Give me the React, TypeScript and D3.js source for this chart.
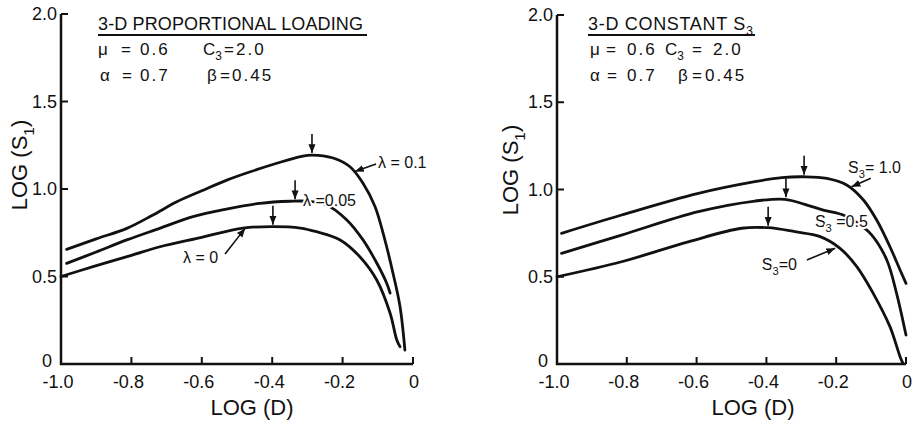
import React from "react";
import * as d3 from "d3";

type Pt = [number, number];

const xTicks = [-1.0, -0.8, -0.6, -0.4, -0.2, 0];
const xTickLabels = ["-1.0", "-0.8", "-0.6", "-0.4", "-0.2", "0"];
const yTicks = [0, 0.5, 1.0, 1.5, 2.0];
const yTickLabels = ["0", "0.5", "1.0", "1.5", "2.0"];

// 3-D proportional loading (log D, log S1)
const lambda01: Pt[] = [
  [-0.984, 0.655], [-0.9, 0.715], [-0.813, 0.775], [-0.74, 0.85], [-0.671, 0.927],
  [-0.6, 0.99], [-0.529, 1.051], [-0.46, 1.1], [-0.387, 1.147], [-0.32, 1.185],
  [-0.287, 1.194], [-0.227, 1.177], [-0.179, 1.127], [-0.142, 1.033], [-0.108, 0.9],
  [-0.08, 0.71], [-0.057, 0.52], [-0.037, 0.33], [-0.023, 0.08],
];
const lambda005: Pt[] = [
  [-0.984, 0.575], [-0.9, 0.64], [-0.813, 0.709], [-0.72, 0.775], [-0.625, 0.842],
  [-0.53, 0.885], [-0.435, 0.918], [-0.349, 0.93], [-0.3, 0.93], [-0.245, 0.909],
  [-0.188, 0.823], [-0.142, 0.709], [-0.103, 0.577], [-0.075, 0.463], [-0.065, 0.405],
];
const lambda0: Pt[] = [
  [-1.0, 0.5], [-0.909, 0.556], [-0.8, 0.621], [-0.719, 0.67], [-0.6, 0.724],
  [-0.483, 0.777], [-0.398, 0.785], [-0.32, 0.777], [-0.274, 0.756], [-0.207, 0.709],
  [-0.151, 0.613], [-0.103, 0.48], [-0.065, 0.29], [-0.046, 0.137], [-0.037, 0.099],
];
const lambdaPeaks: Pt[] = [[-0.287, 1.194], [-0.335, 0.93], [-0.398, 0.785]];

// 3-D constant S3
const s3one: Pt[] = [
  [-0.987, 0.749], [-0.815, 0.854], [-0.595, 0.978], [-0.433, 1.045], [-0.356, 1.068],
  [-0.292, 1.073], [-0.227, 1.064], [-0.17, 1.026], [-0.122, 0.94], [-0.084, 0.825],
  [-0.046, 0.672], [-0.017, 0.539], [0, 0.462],
];
const s3half: Pt[] = [
  [-0.987, 0.634], [-0.815, 0.739], [-0.595, 0.873], [-0.433, 0.934], [-0.347, 0.944],
  [-0.29, 0.915], [-0.237, 0.882], [-0.18, 0.854], [-0.14, 0.81], [-0.098, 0.739],
  [-0.055, 0.596], [-0.027, 0.405], [0, 0.166],
];
const s3zero: Pt[] = [
  [-1.0, 0.5], [-0.815, 0.586], [-0.624, 0.7], [-0.471, 0.778], [-0.395, 0.781],
  [-0.318, 0.758], [-0.246, 0.73], [-0.189, 0.663], [-0.141, 0.558], [-0.094, 0.405],
  [-0.046, 0.214], [-0.017, 0.042], [-0.009, 0.005],
];
const s3Peaks: Pt[] = [[-0.292, 1.073], [-0.344, 0.944], [-0.395, 0.781]];

interface Label {
  at: Pt;
  main: string;
  sub?: string;
  rest?: string;
  from?: Pt;
  to?: Pt;
}

const lambdaLabels: Label[] = [
  { at: [-0.0994, 1.12], main: "λ = 0.1", from: [-0.105, 1.143], to: [-0.165, 1.1] },
  { at: [-0.3125, 0.903], main: "λ =0.05" },
  { at: [-0.6534, 0.577], main: "λ = 0", from: [-0.534, 0.629], to: [-0.477, 0.775] },
];
const s3Labels: Label[] = [
  { at: [-0.166, 1.095], main: "S", sub: "3", rest: "= 1.0", from: [-0.101, 1.064], to: [-0.156, 1.016] },
  { at: [-0.261, 0.785], main: "S", sub: "3", rest: " =0.5" },
  { at: [-0.413, 0.539], main: "S", sub: "3", rest: "=0", from: [-0.284, 0.596], to: [-0.203, 0.663] },
];

// header pieces: symbol, "=", value
interface Piece { x: number; y: number; main: string; sub?: string; value?: boolean }

const leftHeader: Piece[] = [
  { x: 98, y: 55, main: "μ" }, { x: 121, y: 55, main: "=" }, { x: 140, y: 55, main: "0.6", value: true },
  { x: 203, y: 55, main: "C", sub: "3" }, { x: 224, y: 55, main: "=" }, { x: 236, y: 55, main: "2.0", value: true },
  { x: 100, y: 81, main: "α" }, { x: 122, y: 81, main: "=" }, { x: 140, y: 81, main: "0.7", value: true },
  { x: 207, y: 81, main: "β" }, { x: 220, y: 81, main: "=" }, { x: 232, y: 81, main: "0.45", value: true },
];
const rightHeader: Piece[] = [
  { x: 590, y: 55, main: "μ" }, { x: 606, y: 55, main: "=" }, { x: 627, y: 55, main: "0.6", value: true },
  { x: 665, y: 55, main: "C", sub: "3" }, { x: 692, y: 55, main: "=" }, { x: 713, y: 55, main: "2.0", value: true },
  { x: 590, y: 81, main: "α" }, { x: 607, y: 81, main: "=" }, { x: 627, y: 81, main: "0.7", value: true },
  { x: 678, y: 81, main: "β" }, { x: 692, y: 81, main: "=" }, { x: 705, y: 81, main: "0.45", value: true },
];

const FONT = "'Liberation Sans', Arial, sans-serif";
const INK = "#111";

function SubText(props: { t: { main: string; sub?: string; rest?: string }; size: number }) {
  const { t, size } = props;
  return (
    <>
      {t.main}
      {t.sub && (
        <tspan fontSize={size * 0.7} dy={size * 0.3}>{t.sub}</tspan>
      )}
      {t.rest && <tspan dy={t.sub ? -size * 0.3 : 0}>{t.rest}</tspan>}
    </>
  );
}

interface PanelProps {
  x0: number; x1: number; y0: number; y1: number;
  curves: Pt[][];
  peaks: Pt[];
  labels: Label[];
  title: { x: number; main: string; sub?: string; len: number; lineEnd: number };
  header: Piece[];
  yTitleX: number;
  yTitleY: number;
  xTitleX: number;
}

function Panel(p: PanelProps) {
  const x = d3.scaleLinear().domain([-1, 0]).range([p.x0, p.x1]);
  const y = d3.scaleLinear().domain([0, 2]).range([p.y0, p.y1]);
  const line = d3.line<Pt>().x((d) => x(d[0])).y((d) => y(d[1])).curve(d3.curveCatmullRom.alpha(0.5));
  const tick = 7;
  return (
    <g fontFamily={FONT} fill={INK}>
      {/* axes */}
      <path
        d={`M${x(-1)},${y(2)}V${y(0)}H${x(0)}`}
        fill="none" stroke={INK} strokeWidth={2.5}
      />
      {yTicks.map((v, i) => (
        <g key={"y" + i}>
          {v > 0 && <line x1={x(-1)} x2={x(-1) + tick} y1={y(v)} y2={y(v)} stroke={INK} strokeWidth={2} />}
          <text x={x(-1) - (v === 0 ? 9 : 4)} y={y(v) + (v === 0 ? 3 : 6)} textAnchor="end" fontSize={18}>
            {yTickLabels[i]}
          </text>
        </g>
      ))}
      {xTicks.map((v, i) => (
        <g key={"x" + i}>
          {v > -1 && <line x1={x(v)} x2={x(v)} y1={y(0)} y2={y(0) - tick} stroke={INK} strokeWidth={2} />}
          <text x={x(v) + (v < 0 ? -3 : 1)} y={388} textAnchor="middle" fontSize={18}>
            {xTickLabels[i]}
          </text>
        </g>
      ))}
      <text x={p.xTitleX} y={415} textAnchor="middle" fontSize={22}>LOG (D)</text>
      <text transform={`translate(${p.yTitleX},${p.yTitleY}) rotate(-90)`} textAnchor="middle" fontSize={22}>
        <SubText t={{ main: "LOG (S", sub: "1", rest: ")" }} size={22} />
      </text>

      {/* header */}
      <text x={p.title.x} y={30} fontSize={18} textLength={p.title.len} lengthAdjust="spacing">
        <SubText t={{ main: p.title.main, sub: p.title.sub }} size={18} />
      </text>
      <line x1={p.title.x} x2={p.title.lineEnd} y1={35} y2={35} stroke={INK} strokeWidth={2} />
      {p.header.map((h, i) => (
        <text key={"h" + i} x={h.x} y={h.y} fontSize={17} letterSpacing={h.value ? 2 : 0}>
          <SubText t={h} size={17} />
        </text>
      ))}

      {/* curves */}
      {p.curves.map((c, i) => (
        <path key={"c" + i} d={line(c) || ""} fill="none" stroke={INK} strokeWidth={2.8} strokeLinecap="round" />
      ))}

      {/* curve labels */}
      {p.labels.map((l, i) => (
        <text key={"l" + i} x={x(l.at[0])} y={y(l.at[1])} fontSize={16}
          stroke="#fff" strokeWidth={4} paintOrder="stroke" strokeLinejoin="round">
          <SubText t={l} size={16} />
        </text>
      ))}
      {p.labels.filter((l) => l.from && l.to).map((l, i) => (
        <line key={"ld" + i} x1={x(l.from![0])} y1={y(l.from![1])} x2={x(l.to![0])} y2={y(l.to![1])}
          stroke={INK} strokeWidth={1.6} markerEnd="url(#ah)" />
      ))}

      {/* peak arrows */}
      {p.peaks.map((pk, i) => (
        <line key={"p" + i} x1={x(pk[0])} x2={x(pk[0])} y1={y(pk[1]) - 21} y2={y(pk[1]) - 2}
          stroke={INK} strokeWidth={1.6} markerEnd="url(#ah)" />
      ))}
    </g>
  );
}

export default function App() {
  return (
    <svg width={912} height={425} style={{ position: "absolute", left: 0, top: 0, background: "#fff" }}>
      <defs>
        <marker id="ah" viewBox="0 0 10 10" refX={10} refY={5} markerWidth={5.5} markerHeight={5.5} orient="auto">
          <path d="M0,1 L10,5 L0,9 z" fill={INK} />
        </marker>
      </defs>
      <rect width={912} height={425} fill="#fff" />
      <Panel
        x0={61} x1={413} y0={364} y1={14}
        curves={[lambda01, lambda005, lambda0]}
        peaks={lambdaPeaks}
        labels={lambdaLabels}
        title={{ x: 98, main: "3-D PROPORTIONAL LOADING", len: 265, lineEnd: 367 }}
        header={leftHeader}
        yTitleX={27}
        yTitleY={165}
        xTitleX={252}
      />
      <Panel
        x0={557} x1={906} y0={364} y1={15}
        curves={[s3one, s3half, s3zero]}
        peaks={s3Peaks}
        labels={s3Labels}
        title={{ x: 588, main: "3-D CONSTANT S", sub: "3", len: 165, lineEnd: 755 }}
        header={rightHeader}
        yTitleX={518}
        yTitleY={170}
        xTitleX={753}
      />
    </svg>
  );
}
